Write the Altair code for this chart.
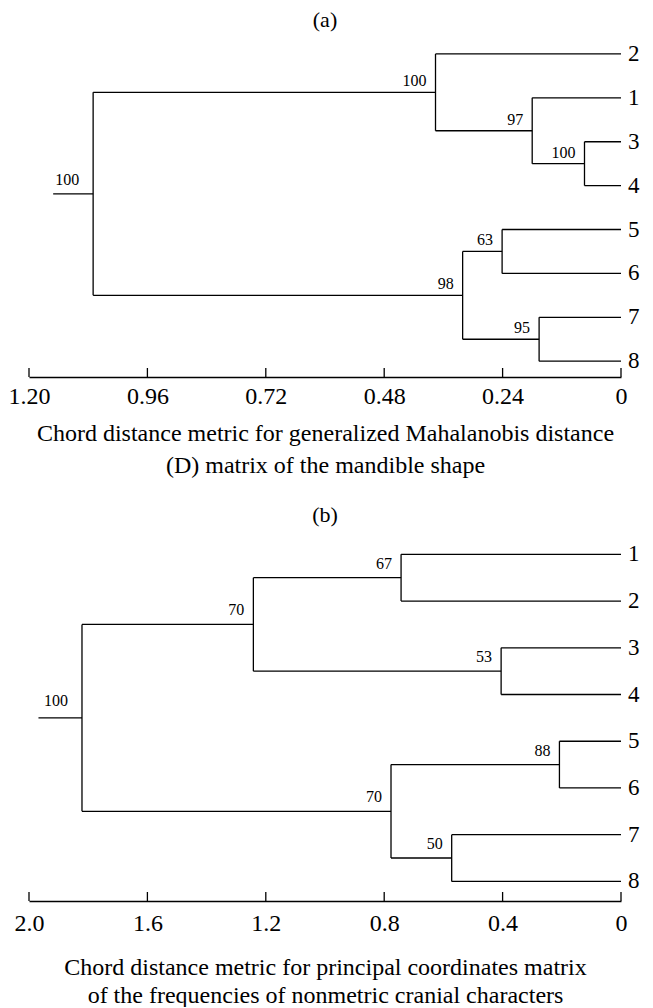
import altair as alt
import pandas as pd

FONT = "Liberation Serif"

# ---------------- panel (a) ----------------
leaves_a = ["2", "1", "3", "4", "5", "6", "7", "8"]
node_names_a = ["C", "B", "A", "E", "F", "D", "R"]
node_left_a = ["3", "1", "2", "5", "7", "E", "A"]
node_right_a = ["4", "C", "B", "6", "8", "F", "D"]
node_height_a = [0.074, 0.180, 0.376, 0.241, 0.166, 0.321, 1.070]
node_support_a = [100, 97, 100, 63, 95, 98, 100]
root_stub_a = 1.151
ticks_a = [1.20, 0.96, 0.72, 0.48, 0.24, 0.0]
title_a = "(a)"
axis_title_a = ["Chord distance metric for generalized Mahalanobis distance",
                "(D) matrix of the mandible shape"]

# ---------------- panel (b) ----------------
leaves_b = ["1", "2", "3", "4", "5", "6", "7", "8"]
node_names_b = ["P", "Q", "S", "T", "U", "V", "R"]
node_left_b = ["1", "3", "P", "5", "7", "T", "S"]
node_right_b = ["2", "4", "Q", "6", "8", "U", "V"]
node_height_b = [0.743, 0.405, 1.242, 0.208, 0.572, 0.777, 1.821]
node_support_b = [67, 53, 70, 88, 50, 70, 100]
root_stub_b = 1.968
ticks_b = [2.0, 1.6, 1.2, 0.8, 0.4, 0.0]
title_b = "(b)"
axis_title_b = ["Chord distance metric for principal coordinates matrix",
                "of the frequencies of nonmetric cranial characters"]


def build(leaves, names, left, right, heights, support, stub):
    pos = {leaf: (0.0, float(i)) for i, leaf in enumerate(leaves)}
    segs, labs = [], []
    for n, l, r, h, s in zip(names, left, right, heights, support):
        xl, yl = pos[l]
        xr, yr = pos[r]
        y = (yl + yr) / 2
        pos[n] = (h, y)
        segs.append(dict(x=h, x2=h, y=yl, y2=yr))
        segs.append(dict(x=xl, x2=h, y=yl, y2=yl))
        segs.append(dict(x=xr, x2=h, y=yr, y2=yr))
        labs.append(dict(x=h, y=y, text=str(s), root=(n == names[-1])))
    rx, ry = pos[names[-1]]
    segs.append(dict(x=rx, x2=stub, y=ry, y2=ry))
    leaf_df = pd.DataFrame(dict(x=[0.0] * len(leaves),
                                y=[float(i) for i in range(len(leaves))],
                                text=leaves))
    return pd.DataFrame(segs), pd.DataFrame(labs), leaf_df


def panel(leaves, names, left, right, heights, support, stub, ticks, xmax,
          fmt, title, axis_title, ybottom, H, W, lab_pad, title_pad,
          title_lh, title_offset, dy_lab):
    seg_df, lab_df, leaf_df = build(leaves, names, left, right, heights,
                                    support, stub)
    tick_df = pd.DataFrame(dict(x=ticks))
    xs = alt.Scale(domain=[0, xmax], reverse=True, nice=False, zero=False)
    ys = alt.Scale(domain=[-0.5, ybottom], reverse=True, nice=False,
                   zero=False)
    xaxis = alt.Axis(
        values=ticks,
        labelExpr=f"datum.value == 0 ? '0' : format(datum.value, '{fmt}')",
        title=axis_title, grid=False, ticks=False, tickSize=0,
        domain=True, domainColor="black", domainWidth=1.3,
        labelPadding=lab_pad, labelFont=FONT, labelFontSize=24,
        labelColor="black", labelFlush=False, labelOverlap=False,
        titleFont=FONT, titleFontSize=24, titleFontWeight="normal",
        titleColor="black", titlePadding=title_pad,
        titleLineHeight=title_lh)
    X = alt.X("x:Q", scale=xs, axis=xaxis)
    Y = alt.Y("y:Q", scale=ys, axis=None)
    segs = alt.Chart(seg_df).mark_rule(color="black", strokeWidth=1.3).encode(
        x=X, x2="x2:Q", y=Y, y2="y2:Q")
    tks = alt.Chart(tick_df).mark_rule(color="black", strokeWidth=1.3).encode(
        x=X, y=alt.value(H), y2=alt.value(H - 9))
    nonroot = lab_df[~lab_df["root"]]
    rootlab = lab_df[lab_df["root"]]
    labs = alt.Chart(nonroot).mark_text(
        align="right", baseline="alphabetic", dx=-9, dy=dy_lab,
        font=FONT, fontSize=16, color="black").encode(
        x=X, y=Y, text="text:N")
    rlab = alt.Chart(rootlab).mark_text(
        align="right", baseline="alphabetic", dx=-14, dy=dy_lab - 3,
        font=FONT, fontSize=16, color="black").encode(
        x=X, y=Y, text="text:N")
    lvs = alt.Chart(leaf_df).mark_text(
        align="left", baseline="middle", dx=7, font=FONT, fontSize=23,
        color="black").encode(x=X, y=Y, text="text:N")
    return alt.layer(segs, tks, labs, rlab, lvs).properties(
        width=W, height=H,
        title=alt.TitleParams(title, font=FONT, fontSize=22,
                              fontWeight="normal", anchor="middle",
                              color="black", offset=title_offset))


W = 592
chart_a = panel(leaves_a, node_names_a, node_left_a, node_right_a,
                node_height_a, node_support_a, root_stub_a, ticks_a, 1.2,
                ".2f", title_a, axis_title_a, 7.36, 345, W, 7, 13, 32, 0, -6)
chart_b = panel(leaves_b, node_names_b, node_left_b, node_right_b,
                node_height_b, node_support_b, root_stub_b, ticks_b, 2.0,
                ".1f", title_b, axis_title_b, 7.42, 370, W, 10, 20, 28, 4, -9)

chart = alt.vconcat(chart_a, chart_b, spacing=27).properties(
    padding={"left": 0, "top": 1, "right": 0, "bottom": 0}
).configure_view(stroke=None)

chart.save("out.html", embed_options={"renderer": "svg", "actions": False})
